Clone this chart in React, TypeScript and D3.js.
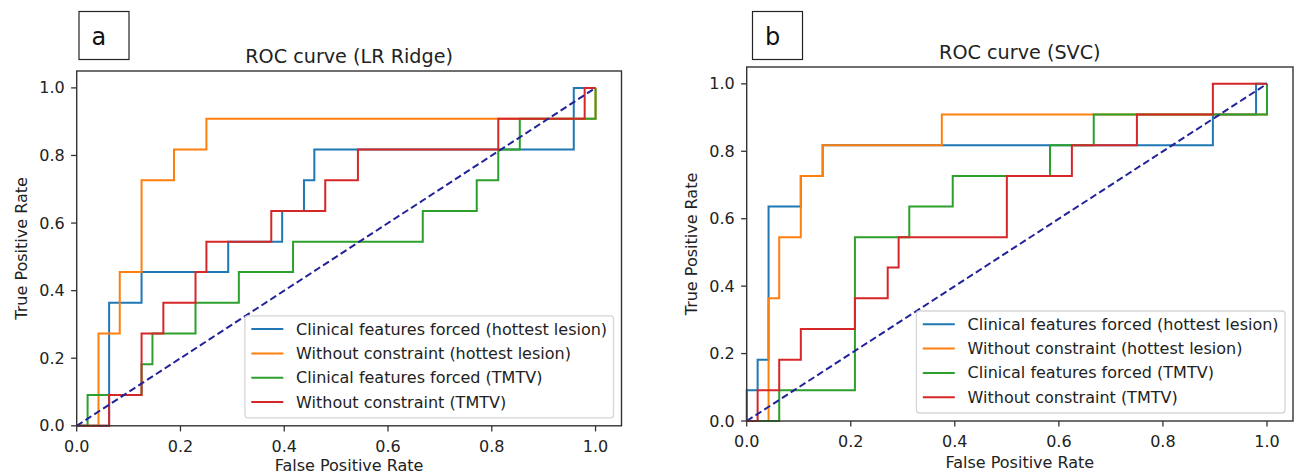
import React, { useEffect, useRef } from 'react';
import * as d3 from 'd3';

// tick values shared by both axes of both panels
const tickValues = [0, 0.2, 0.4, 0.6, 0.8, 1.0];
const tickLabels = ['0.0', '0.2', '0.4', '0.6', '0.8', '1.0'];

const seriesLabels = [
  'Clinical features forced (hottest lesion)',
  'Without constraint (hottest lesion)',
  'Clinical features forced (TMTV)',
  'Without constraint (TMTV)',
];
const seriesColors = ['#1f77b4', '#ff7f0e', '#2ca02c', '#d62728'];

// panel a: LR Ridge (fpr / tpr vertices)
const ridgeClinHotFpr = [0, 0.0625, 0.0625, 0.125, 0.125, 0.292, 0.292, 0.396, 0.396, 0.438, 0.438, 0.458, 0.458, 0.958, 0.958, 1];
const ridgeClinHotTpr = [0, 0, 0.364, 0.364, 0.455, 0.455, 0.545, 0.545, 0.636, 0.636, 0.727, 0.727, 0.818, 0.818, 1, 1];
const ridgeFreeHotFpr = [0, 0.042, 0.042, 0.083, 0.083, 0.125, 0.125, 0.1875, 0.1875, 0.25, 0.25, 1, 1];
const ridgeFreeHotTpr = [0, 0, 0.273, 0.273, 0.455, 0.455, 0.727, 0.727, 0.818, 0.818, 0.909, 0.909, 1];
const ridgeClinTmtvFpr = [0, 0.021, 0.021, 0.125, 0.125, 0.146, 0.146, 0.229, 0.229, 0.3125, 0.3125, 0.417, 0.417, 0.667, 0.667, 0.771, 0.771, 0.8125, 0.8125, 0.854, 0.854, 1, 1];
const ridgeClinTmtvTpr = [0, 0, 0.091, 0.091, 0.182, 0.182, 0.273, 0.273, 0.364, 0.364, 0.455, 0.455, 0.545, 0.545, 0.636, 0.636, 0.727, 0.727, 0.818, 0.818, 0.909, 0.909, 1];
const ridgeFreeTmtvFpr = [0, 0.0625, 0.0625, 0.125, 0.125, 0.167, 0.167, 0.229, 0.229, 0.25, 0.25, 0.375, 0.375, 0.479, 0.479, 0.542, 0.542, 0.8125, 0.8125, 0.979, 0.979, 1];
const ridgeFreeTmtvTpr = [0, 0, 0.091, 0.091, 0.273, 0.273, 0.364, 0.364, 0.455, 0.455, 0.545, 0.545, 0.636, 0.636, 0.727, 0.727, 0.818, 0.818, 0.909, 0.909, 1, 1];

// panel b: SVC
const svcClinHotFpr = [0, 0, 0.021, 0.021, 0.042, 0.042, 0.104, 0.104, 0.146, 0.146, 0.896, 0.896, 0.979, 0.979, 1];
const svcClinHotTpr = [0, 0.091, 0.091, 0.182, 0.182, 0.636, 0.636, 0.727, 0.727, 0.818, 0.818, 0.909, 0.909, 1, 1];
const svcFreeHotFpr = [0, 0.042, 0.042, 0.0625, 0.0625, 0.104, 0.104, 0.146, 0.146, 0.375, 0.375, 1, 1];
const svcFreeHotTpr = [0, 0, 0.364, 0.364, 0.545, 0.545, 0.727, 0.727, 0.818, 0.818, 0.909, 0.909, 1];
const svcClinTmtvFpr = [0, 0.0625, 0.0625, 0.208, 0.208, 0.3125, 0.3125, 0.396, 0.396, 0.583, 0.583, 0.667, 0.667, 1, 1];
const svcClinTmtvTpr = [0, 0, 0.091, 0.091, 0.545, 0.545, 0.636, 0.636, 0.727, 0.727, 0.818, 0.818, 0.909, 0.909, 1];
const svcFreeTmtvFpr = [0, 0.021, 0.021, 0.0625, 0.0625, 0.104, 0.104, 0.208, 0.208, 0.271, 0.271, 0.292, 0.292, 0.5, 0.5, 0.625, 0.625, 0.75, 0.75, 0.896, 0.896, 1];
const svcFreeTmtvTpr = [0, 0, 0.091, 0.091, 0.182, 0.182, 0.273, 0.273, 0.364, 0.364, 0.455, 0.455, 0.545, 0.545, 0.727, 0.727, 0.818, 0.818, 0.909, 0.909, 1, 1];

const FONT = '"DejaVu Sans", sans-serif';
const WIDTH = 1298;
const HEIGHT = 475;

type Panel = {
  letter: string;
  title: string;
  curves: [number[], number[]][];
  left: number;
  right: number;
  top: number;
  bottom: number;
  boxX: number;
};

const panels: Panel[] = [
  {
    letter: 'a',
    title: 'ROC curve (LR Ridge)',
    curves: [
      [ridgeClinHotFpr, ridgeClinHotTpr],
      [ridgeFreeHotFpr, ridgeFreeHotTpr],
      [ridgeClinTmtvFpr, ridgeClinTmtvTpr],
      [ridgeFreeTmtvFpr, ridgeFreeTmtvTpr],
    ],
    left: 76.7,
    right: 621.5,
    top: 71,
    bottom: 425.8,
    boxX: 79,
  },
  {
    letter: 'b',
    title: 'ROC curve (SVC)',
    curves: [
      [svcClinHotFpr, svcClinHotTpr],
      [svcFreeHotFpr, svcFreeHotTpr],
      [svcClinTmtvFpr, svcClinTmtvTpr],
      [svcFreeTmtvFpr, svcFreeTmtvTpr],
    ],
    left: 746.7,
    right: 1293,
    top: 67,
    bottom: 421,
    boxX: 752.5,
  },
];

const App = () => {
  const svgRef = useRef<SVGSVGElement>(null);

  useEffect(() => {
    const svg = d3.select(svgRef.current);
    svg.selectAll('*').remove();
    svg.append('rect').attr('width', WIDTH).attr('height', HEIGHT).attr('fill', '#fff');

    panels.forEach((p) => {
      const g = svg.append('g');
      const x = d3.scaleLinear().domain([0, 1.05]).range([p.left, p.right]);
      const y = d3.scaleLinear().domain([0, 1.05]).range([p.bottom, p.top]);

      // letter box
      g.append('rect')
        .attr('x', p.boxX)
        .attr('y', 11.5)
        .attr('width', 50)
        .attr('height', 48)
        .attr('fill', '#fff')
        .attr('stroke', '#222')
        .attr('stroke-width', 1.2);
      g.append('text')
        .attr('x', p.boxX + 12.5)
        .attr('y', 45)
        .attr('font-family', FONT)
        .attr('font-size', 24)
        .attr('fill', '#111')
        .text(p.letter);

      // title
      g.append('text')
        .attr('x', (p.left + p.right) / 2)
        .attr('y', p.top - 8)
        .attr('text-anchor', 'middle')
        .attr('font-family', FONT)
        .attr('font-size', 19.2)
        .attr('fill', '#222')
        .text(p.title);

      // curves
      const line = d3
        .line<[number, number]>()
        .x((d) => x(d[0]))
        .y((d) => y(d[1]));

      p.curves.forEach(([fpr, tpr], i) => {
        const pts = fpr.map((f, k) => [f, tpr[k]] as [number, number]);
        g.append('path')
          .datum(pts)
          .attr('fill', 'none')
          .attr('stroke', seriesColors[i])
          .attr('stroke-width', 2)
          .attr('stroke-linejoin', 'miter')
          .attr('d', line);
      });

      // chance diagonal
      g.append('path')
        .datum([[0, 0], [1, 1]] as [number, number][])
        .attr('fill', 'none')
        .attr('stroke', '#22229a')
        .attr('stroke-width', 2)
        .attr('stroke-dasharray', '7,3.5')
        .attr('d', line);

      // legend
      const fs = 16;
      const pad = 0.4 * fs;
      const rowH = 24.3;
      const leg = g.append('g');
      const texts = seriesLabels.map((lab) =>
        leg.append('text').attr('font-family', FONT).attr('font-size', fs).attr('fill', '#222').text(lab)
      );
      const textW = d3.max(texts, (t) => (t.node() as SVGTextElement).getComputedTextLength()) || 315;
      const legW = pad + 2 * fs + 0.8 * fs + textW + pad;
      const legH = 102;
      const legRight = p.right - 0.5 * fs;
      const legBottom = p.bottom - 0.5 * fs;
      const legLeft = legRight - legW;
      const legTop = legBottom - legH;
      leg.insert('rect', 'text')
        .attr('x', legLeft)
        .attr('y', legTop)
        .attr('width', legW)
        .attr('height', legH)
        .attr('rx', 3)
        .attr('fill', '#fff')
        .attr('fill-opacity', 0.8)
        .attr('stroke', '#d6d6d6')
        .attr('stroke-width', 1.3);
      seriesLabels.forEach((lab, i) => {
        const cy = legTop + 13.3 + i * rowH;
        leg.append('line')
          .attr('x1', legLeft + pad)
          .attr('x2', legLeft + pad + 2 * fs)
          .attr('y1', cy)
          .attr('y2', cy)
          .attr('stroke', seriesColors[i])
          .attr('stroke-width', 2);
        texts[i]
          .attr('x', legLeft + pad + 2.8 * fs)
          .attr('y', cy)
          .attr('dominant-baseline', 'central');
      });

      // frame
      g.append('rect')
        .attr('x', p.left)
        .attr('y', p.top)
        .attr('width', p.right - p.left)
        .attr('height', p.bottom - p.top)
        .attr('fill', 'none')
        .attr('stroke', '#333')
        .attr('stroke-width', 1.4);

      // ticks
      tickValues.forEach((v, i) => {
        g.append('line')
          .attr('x1', x(v))
          .attr('x2', x(v))
          .attr('y1', p.bottom)
          .attr('y2', p.bottom + 5.6)
          .attr('stroke', '#333')
          .attr('stroke-width', 1.3);
        g.append('text')
          .attr('x', x(v))
          .attr('y', p.bottom + 26)
          .attr('text-anchor', 'middle')
          .attr('font-family', FONT)
          .attr('font-size', 16)
          .attr('fill', '#222')
          .text(tickLabels[i]);
        g.append('line')
          .attr('x1', p.left - 5.6)
          .attr('x2', p.left)
          .attr('y1', y(v))
          .attr('y2', y(v))
          .attr('stroke', '#333')
          .attr('stroke-width', 1.3);
        g.append('text')
          .attr('x', p.left - 12)
          .attr('y', y(v))
          .attr('text-anchor', 'end')
          .attr('dominant-baseline', 'central')
          .attr('font-family', FONT)
          .attr('font-size', 16)
          .attr('fill', '#222')
          .text(tickLabels[i]);
      });

      // axis labels
      g.append('text')
        .attr('x', (p.left + p.right) / 2)
        .attr('y', Math.min(p.bottom + 47, HEIGHT - 4))
        .attr('text-anchor', 'middle')
        .attr('font-family', FONT)
        .attr('font-size', 16)
        .attr('fill', '#222')
        .text('False Positive Rate');
      g.append('text')
        .attr('transform', `translate(${p.left - 55.5},${(p.top + p.bottom) / 2}) rotate(-90)`)
        .attr('text-anchor', 'middle')
        .attr('dominant-baseline', 'central')
        .attr('font-family', FONT)
        .attr('font-size', 16)
        .attr('fill', '#222')
        .text('True Positive Rate');
    });
  }, []);

  return (
    <svg
      ref={svgRef}
      width={WIDTH}
      height={HEIGHT}
      style={{ position: 'absolute', left: 0, top: 0 }}
    ></svg>
  );
};

export default App;
